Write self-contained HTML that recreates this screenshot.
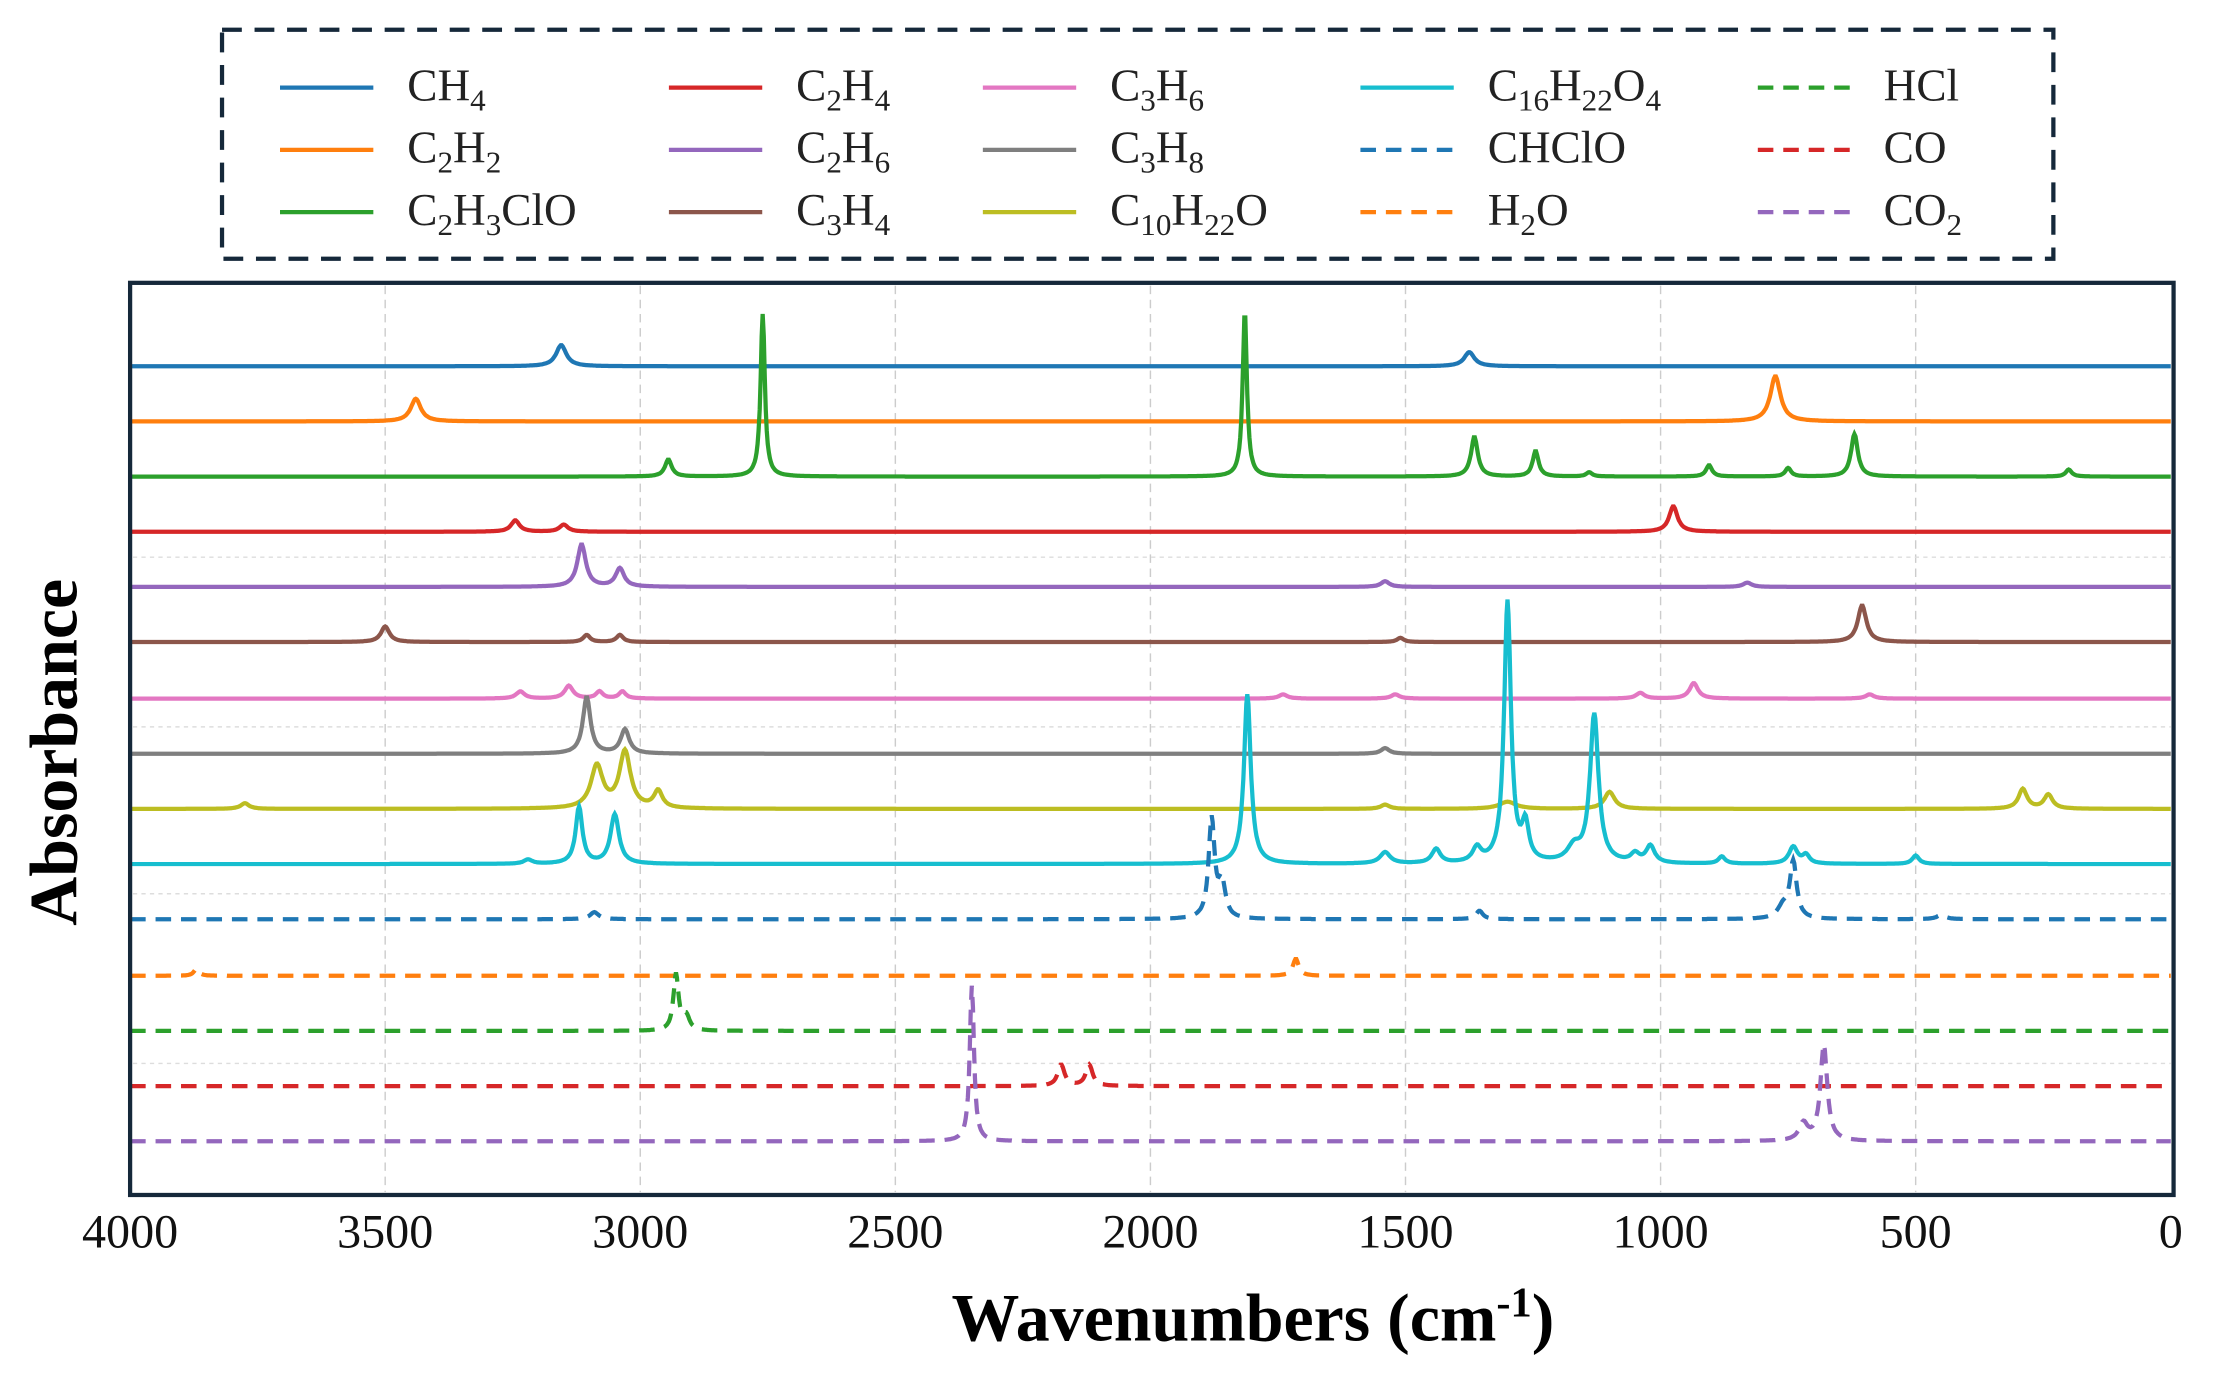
<!DOCTYPE html>
<html><head><meta charset="utf-8"><style>
html,body{margin:0;padding:0;background:#fff;}
svg{display:block;}
text{font-family:"Liberation Serif",serif;}
</style></head><body>
<svg id="s" width="2216" height="1375" viewBox="0 0 1567 972.3" preserveAspectRatio="none" xmlns="http://www.w3.org/2000/svg">
<rect width="1567" height="973" fill="#fff"/>
<g id="grid"></g>
<g id="series"></g>
<rect x="92" y="200" width="1445" height="645" fill="none" stroke="#15283a" stroke-width="3"/>
<g id="ticks" font-size="34" text-anchor="middle" fill="#111"></g>
<text x="886" y="948" font-size="48" font-weight="bold" text-anchor="middle">Wavenumbers (cm<tspan font-size="30" dy="-17">-1</tspan><tspan dy="17">)</tspan></text>
<text transform="translate(54,532) rotate(-90)" font-size="48" font-weight="bold" text-anchor="middle">Absorbance</text>
<rect x="157" y="21" width="1295" height="162" fill="#fff" stroke="#15283a" stroke-width="3" stroke-dasharray="14,9"/>
<g id="legend" font-size="32" fill="#222"></g>
</svg>
<script>
const NS="http://www.w3.org/2000/svg";
const X=w=>92+(4000-w)/4000*1443;
const g=document.getElementById('grid'),t=document.getElementById('ticks');
for(let w=0;w<=4000;w+=500){
 const x=X(w);
 if(w>0&&w<4000){const l=document.createElementNS(NS,'line');l.setAttribute('x1',x);l.setAttribute('x2',x);l.setAttribute('y1',202);l.setAttribute('y2',843);l.setAttribute('stroke','#ccc');l.setAttribute('stroke-width','1');l.setAttribute('stroke-dasharray','6,4');g.appendChild(l);}
 const tx=document.createElementNS(NS,'text');tx.setAttribute('x',x);tx.setAttribute('y',882);tx.textContent=w;t.appendChild(tx);
}
[394,514,632,752].forEach(y=>{const l=document.createElementNS(NS,'line');l.setAttribute('x1',94);l.setAttribute('x2',1535);l.setAttribute('y1',y);l.setAttribute('y2',y);l.setAttribute('stroke','#ddd');l.setAttribute('stroke-width','1');l.setAttribute('stroke-dasharray','3,3');g.appendChild(l);});
const S=[
 ['#1f77b4',259,0,[[3155,15,12],[1375,10,12]]],
 ['#ff7f0e',298,0,[[3440,16,12],[775,32,12]]],
 ['#2ca02c',337,0,[[2760,115,5],[1815,117,5],[2945,12,8],[1365,28,8],[1245,18,7],[905,8,7],[750,6,7],[620,30,8],[200,5,7],[1140,3,7]]],
 ['#d62728',376,0,[[3245,8,10],[3150,5,10],[975,18,10]]],
 ['#9467bd',415,0,[[3115,30,10],[3040,13,10],[1540,4,10],[830,3,10]]],
 ['#8c564b',454,0,[[3500,11,10],[3105,5,8],[3040,5,8],[605,26,10],[1510,3,8]]],
 ['#e377c2',494,0,[[3235,5,10],[3140,9,10],[3080,5,8],[3035,5,8],[1740,3,10],[1520,3,10],[1040,4,10],[935,11,10],[590,3,10]]],
 ['#7f7f7f',533,0,[[3105,40,9],[3030,17,10],[1540,4,10]]],
 ['#bcbd22',572,0,[[3085,30,14],[3030,40,13],[2965,12,10],[3775,4,10],[1540,3,10],[1100,12,12],[290,14,10],[240,10,10],[1300,5,20]]],
 ['#17becf',611,0,[[3120,40,8],[3050,35,10],[1810,120,8],[1300,185,8],[1265,25,8],[1130,105,10],[1170,10,15],[1540,8,12],[1440,10,10],[1360,10,10],[1020,12,10],[1050,6,10],[880,5,8],[740,12,10],[715,6,8],[500,6,8],[3220,3,10]]],
 ['#1f77b4',650,1,[[1880,70,7],[1860,25,8],[740,40,8],[760,8,12],[3090,5,10],[1355,6,8],[450,3,10]]],
 ['#ff7f0e',690,1,[[3870,5,6],[1715,12,7]]],
 ['#2ca02c',729,1,[[2930,40,6],[2910,10,8]]],
 ['#d62728',768,1,[[2175,15,8],[2120,15,8]]],
 ['#9467bd',807,1,[[2350,110,5],[680,68,8],[720,12,10]]]
];
const sg=document.getElementById('series');
S.forEach(([c,y0,d,pk])=>{
 let p='';
 for(let w=4000;w>=0;w-=2){
  let h=0;pk.forEach(([c0,a,hw])=>{const u=(w-c0)/hw;h+=a/(1+u*u);});
  p+=(w==4000?'M':'L')+X(w).toFixed(1)+','+(y0-h).toFixed(1);
 }
 const e=document.createElementNS(NS,'path');e.setAttribute('d',p);e.setAttribute('fill','none');e.setAttribute('stroke',c);e.setAttribute('stroke-width','3');
 if(d)e.setAttribute('stroke-dasharray','11,7');sg.appendChild(e);
});
const nm=s=>{
 const parts=s.match(/\d+|\D+/g);let off=0,o='';
 parts.forEach(p=>{
  if(/\d/.test(p)){o+=`<tspan font-size="22" dy="${7-off}">${p}</tspan>`;off=7;}
  else{o+=`<tspan dy="${-off}">${p}</tspan>`;off=0;}
 });
 return o;
};
const L=[
 [198,288,62,'#1f77b4',0,'CH4'],[198,288,106,'#ff7f0e',0,'C2H2'],[198,288,150,'#2ca02c',0,'C2H3ClO'],
 [473,563,62,'#d62728',0,'C2H4'],[473,563,106,'#9467bd',0,'C2H6'],[473,563,150,'#8c564b',0,'C3H4'],
 [695,785,62,'#e377c2',0,'C3H6'],[695,785,106,'#7f7f7f',0,'C3H8'],[695,785,150,'#bcbd22',0,'C10H22O'],
 [962,1052,62,'#17becf',0,'C16H22O4'],[962,1052,106,'#1f77b4',1,'CHClO'],[962,1052,150,'#ff7f0e',1,'H2O'],
 [1243,1332,62,'#2ca02c',1,'HCl'],[1243,1332,106,'#d62728',1,'CO'],[1243,1332,150,'#9467bd',1,'CO2']
];
let lh='';
L.forEach(([x1,tx,y,c,d,s])=>{
 lh+=`<line x1="${x1}" x2="${x1+66}" y1="${y}" y2="${y}" stroke="${c}" stroke-width="3" ${d?'stroke-dasharray="11,7"':''}/>`;
 lh+=`<text x="${tx}" y="${y+9}">${nm(s)}</text>`;
});
document.getElementById('legend').innerHTML=lh;
</script>
</body></html>
